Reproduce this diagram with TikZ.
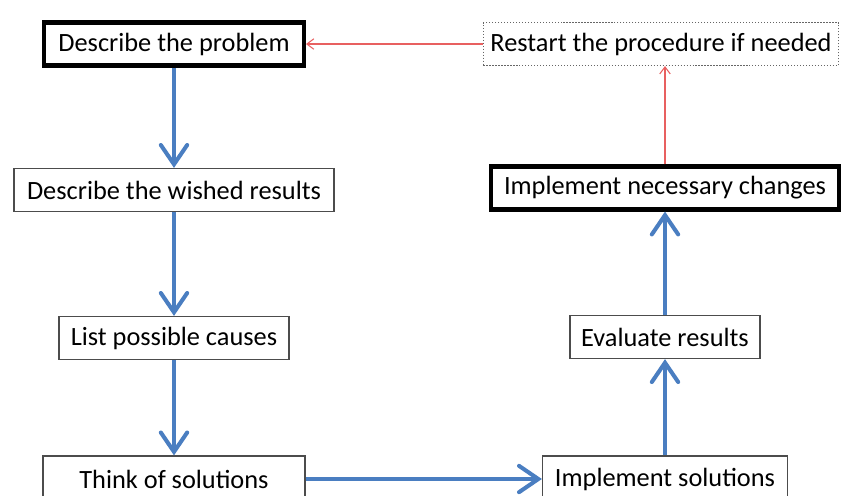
\documentclass[tikz,border=0pt]{standalone}
\usepackage{fontspec}
\setmainfont{Carlito}
\usetikzlibrary{arrows.meta}
\definecolor{flowblue}{RGB}{74,126,193}
\definecolor{backred}{RGB}{232,96,96}
\tikzset{
  stepbox/.style={draw=black!70,line width=0.7pt,fill=white,inner xsep=4pt,
    minimum height=0.86cm,font=\fontsize{15}{18}\selectfont},
  keybox/.style={stepbox,draw=black,line width=2.3pt},
  dotbox/.style={stepbox,draw=black!60,densely dotted,line width=0.6pt},
  flow/.style={flowblue,line width=2.3pt,
    -{Straight Barb[length=11pt,width=15pt,line cap=round]}},
  back/.style={backred,line width=0.6pt,-{Straight Barb[length=4pt,width=6pt]}}
}
\begin{document}
\begin{tikzpicture}[x=0.02cm,y=-0.02cm]
\useasboundingbox[fill=white] (0,0) rectangle (844,495);
\clip (0,0) rectangle (844,495);

% Left column
\node[keybox,minimum width=5.2cm] (problem) at (174,44) {Describe the problem};
\node[stepbox,minimum width=6.4cm] (wished) at (174,190) {Describe the wished results};
\node[stepbox,minimum width=4.6cm] (causes) at (174,338) {List possible causes};
\node[stepbox,minimum width=5.24cm,minimum height=0.92cm] (think) at (174,479) {Think of solutions};

% Right column
\node[dotbox,minimum width=7.1cm] (restart) at (661,44) {Restart the procedure if needed};
\node[keybox,minimum width=6.96cm] (changes) at (665,188) {Implement necessary changes};
\node[stepbox,minimum width=3.8cm] (evaluate) at (665,337) {Evaluate results};
\node[stepbox,minimum width=4.9cm,minimum height=0.92cm] (implement) at (665,479) {Implement solutions};

% Main flow
\draw[flow] (problem) -- (wished);
\draw[flow] (wished) -- (causes);
\draw[flow] (causes) -- (think);
\draw[flow] (think) -- (implement);
\draw[flow] (implement) -- (evaluate);
\draw[flow] (evaluate) -- (changes);

% Feedback loop
\draw[back] (changes) -- (changes |- restart.south);
\draw[back] (restart) -- (problem);
\end{tikzpicture}
\end{document}
